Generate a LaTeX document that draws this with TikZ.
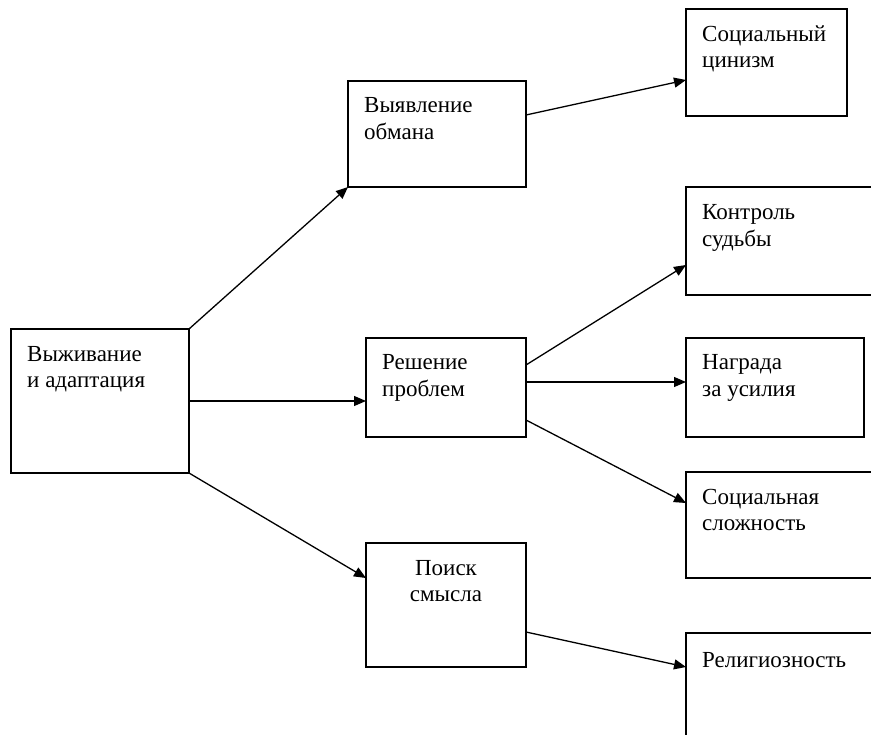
\documentclass[tikz,border=0pt]{standalone}
\usepackage{fontspec}
\setmainfont{Liberation Serif}
\usetikzlibrary{arrows.meta}
\tikzset{
 box/.style={draw, line width=1.4pt, rectangle, inner sep=0pt, outer sep=0pt, anchor=north west},
 lbl/.style={anchor=base west, inner sep=0pt, align=left, font=\fontsize{23}{26.5}\selectfont},
 arr/.style={line width=1.3pt, -{Triangle[length=12pt,width=10pt]}}
}
\begin{document}
\begin{tikzpicture}[x=1pt,y=-1pt]
\useasboundingbox (0,0) rectangle (871,735);
\clip (0,0) rectangle (871,735);
% boxes
\node[box, minimum width=178pt, minimum height=144pt] (surv) at (11,329) {};
\node[box, minimum width=178pt, minimum height=106pt] (dec) at (348,81) {};
\node[box, minimum width=160pt, minimum height=99pt] (prob) at (366,338) {};
\node[box, minimum width=160pt, minimum height=124pt] (mean) at (366,543) {};
\node[box, minimum width=161pt, minimum height=107pt] (cyn) at (686,9) {};
\node[box, minimum width=200pt, minimum height=108pt] (fate) at (686,187) {};
\node[box, minimum width=178pt, minimum height=99pt] (rew) at (686,338) {};
\node[box, minimum width=200pt, minimum height=106pt] (cplx) at (686,472) {};
\node[box, minimum width=200pt, minimum height=150pt] (rel) at (686,633) {};
% labels (base anchor = baseline of last line)
\node[lbl] (tsurv) at (27,388) {Выживание\\и адаптация};
\node[lbl] (tdec) at (364,139.5) {Выявление\\обмана};
\node[lbl] (tprob) at (382,396.5) {Решение\\проблем};
\node[lbl, anchor=base, align=center] (tmean) at (446,601.5) {Поиск\\смысла};
\node[lbl] (tcyn) at (702,68) {Социальный\\цинизм};
\node[lbl] (tfate) at (702,246.5) {Контроль\\судьбы};
\node[lbl] (trew) at (702,396.5) {Награда\\за усилия};
\node[lbl] (tcplx) at (702,530.5) {Социальная\\сложность};
\node[lbl] (trel) at (702,667) {Религиозность};
% arrows
\draw[arr] (surv.north east) -- (dec.south west);
\draw[arr] (surv.east) -- (surv.east -| prob.west);
\draw[arr] (surv.south east) -- ([yshift=-35pt]mean.north west);
\draw[arr] ([yshift=-34pt]dec.north east) -- ([yshift=-71pt]cyn.north west);
\draw[arr] ([yshift=-27pt]prob.north east) -- ([yshift=-78pt]fate.north west);
\draw[arr] ([yshift=-44pt]prob.north east) -- ([yshift=-44pt]rew.north west);
\draw[arr] ([yshift=-82pt]prob.north east) -- ([yshift=-31pt]cplx.north west);
\draw[arr] ([yshift=-89pt]mean.north east) -- ([yshift=-34pt]rel.north west);
\end{tikzpicture}
\end{document}
